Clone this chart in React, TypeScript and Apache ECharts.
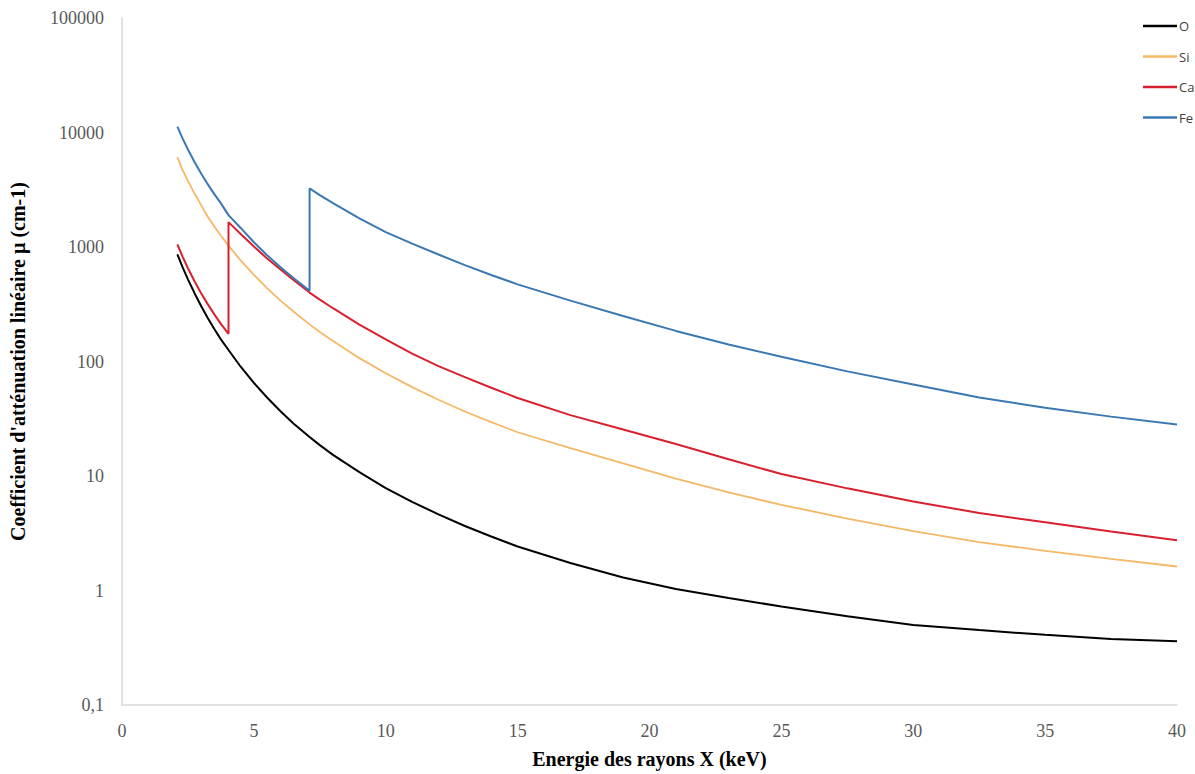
import React, { useEffect, useRef } from "react";
import * as echarts from "echarts";

const energies = [2.1, 2.3, 2.5, 2.75, 3, 3.25, 3.5, 3.75, 4.038, 4.038, 4.5, 5, 5.5, 6, 6.5, 7.112, 7.112, 7.5, 8, 9, 10, 11, 12, 13, 14, 15, 17, 19, 21, 23, 25, 27.5, 30, 32.5, 35, 37.5, 40];

const oxygen = [863, 665, 522, 395, 305, 240, 192, 156, 126, 126, 90, 65, 48.5, 37, 28.8, 21.9, 21.9, 18.6, 15.3, 10.8, 7.85, 5.95, 4.62, 3.66, 2.96, 2.42, 1.74, 1.3, 1.03, 0.86, 0.725, 0.597, 0.5, 0.451, 0.41, 0.378, 0.36];

const silicon = [6100, 4700, 3780, 2930, 2320, 1840, 1509, 1254, 1028, 1028, 763, 571, 437, 342, 273, 211, 211, 181, 151, 107, 79, 59.7, 46.3, 36.6, 29.5, 24.1, 17.5, 12.9, 9.5, 7.2, 5.6, 4.25, 3.3, 2.65, 2.22, 1.89, 1.62];

const calcium = [1055, 821, 652, 502, 395, 317, 258, 213, 174, 1650, 1300, 1010, 795, 640, 515, 400, 400, 347, 292, 210, 156, 117, 91, 73, 59, 48, 34, 25.5, 19, 14, 10.4, 7.8, 6.0, 4.75, 3.95, 3.28, 2.75];

const iron = [11250, 8850, 7105, 5520, 4391, 3538, 2897, 2404, 1900, 1900, 1467, 1101, 848, 668, 536, 415, 3250, 2840, 2420, 1780, 1350, 1070, 860, 695, 570, 472, 340, 250, 185, 141, 110, 82, 63, 48.5, 39.5, 33, 28.2];

const seriesNames = ["O", "Si", "Ca", "Fe"];
const seriesValues = [oxygen, silicon, calcium, iron];
const seriesColors = ["#000000", "#f4b866", "#d9202e", "#3a78b2"];
const seriesWidths = [2, 1.8, 2, 2];

const xTitle = "Energie des rayons X (keV)";
const yTitle = "Coefficient d'atténuation linéaire µ (cm-1)";

export default function App() {
  const ref = useRef<HTMLDivElement>(null);

  useEffect(() => {
    if (!ref.current) return;
    const chart = echarts.init(ref.current, undefined, { renderer: "svg" });
    const serif = "'Liberation Serif', 'Times New Roman', serif";
    chart.setOption({
      animation: false,
      backgroundColor: "#ffffff",
      grid: { left: 116, right: 18, top: 18, bottom: 67, containLabel: false },
      legend: {
        orient: "vertical",
        left: 1138,
        top: 13,
        icon: "rect",
        itemWidth: 34,
        itemHeight: 2.5,
        itemGap: 14.5,
        data: seriesNames,
        textStyle: {
          fontFamily: "'Open Sans', 'Noto Sans', sans-serif",
          fontSize: 13,
          lineHeight: 16,
          color: "#404040",
          padding: [0, 0, 0, -3],
        },
      },
      xAxis: {
        type: "value",
        min: 0,
        max: 40,
        interval: 5,
        name: xTitle,
        nameLocation: "middle",
        nameGap: 44,
        nameTextStyle: { fontFamily: serif, fontSize: 20, fontWeight: "bold", color: "#000000" },
        axisLine: { show: true, lineStyle: { color: "#d9d9d9", width: 1.5 } },
        axisTick: { show: false },
        splitLine: { show: false },
        axisLabel: { fontFamily: serif, fontSize: 18, color: "#595959", margin: 17 },
      },
      yAxis: {
        type: "log",
        logBase: 10,
        min: 0.1,
        max: 100000,
        name: yTitle,
        nameLocation: "middle",
        nameGap: 94,
        nameRotate: 90,
        nameTextStyle: { fontFamily: serif, fontSize: 20, fontWeight: "bold", color: "#000000" },
        axisLine: { show: true, lineStyle: { color: "#d9d9d9", width: 1.5 } },
        axisTick: { show: false },
        splitLine: { show: false },
        axisLabel: {
          fontFamily: serif,
          fontSize: 18,
          color: "#595959",
          margin: 18,
          formatter: (v: number) => (v < 1 ? "0,1" : String(Math.round(v))),
        },
      },
      series: seriesNames.map((name, i) => ({
        name,
        type: "line",
        showSymbol: false,
        symbol: "none",
        smooth: false,
        lineStyle: { color: seriesColors[i], width: seriesWidths[i] },
        itemStyle: { color: seriesColors[i] },
        data: energies.map((e, k) => [e, seriesValues[i][k]]),
      })),
    });
    return () => chart.dispose();
  }, []);

  return (
    <div
      ref={ref}
      style={{ position: "fixed", left: 0, top: 0, width: 1195, height: 774, background: "#fff" }}
    />
  );
}
